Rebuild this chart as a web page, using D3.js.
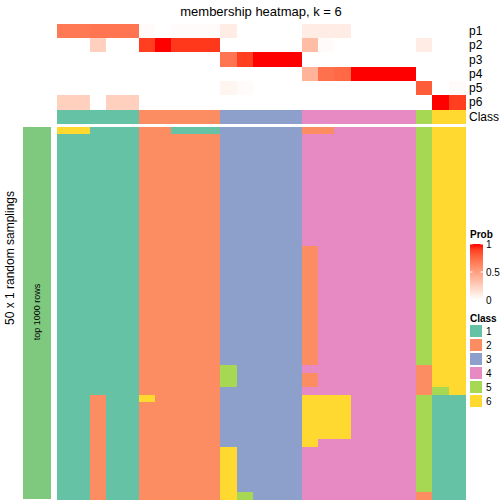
<!DOCTYPE html>
<html><head><meta charset="utf-8">
<script src="https://cdn.jsdelivr.net/npm/d3@7"></script>
<style>html,body{margin:0;padding:0;background:#fff;}svg{display:block;font-family:"Liberation Sans",Arial,Helvetica,sans-serif;}</style>
</head><body>
<script>
// ---- data ----
const columns = d3.range(25);
const probRows = ["p1","p2","p3","p4","p5","p6"];
const p1 = [0.68,0.68,0.7,0.7,0.7,0.02,0,0.02,0.02,0.02,0.1,0,0,0,0,0.1,0.1,0.1,0,0,0,0,0,0,0];
const p2 = [0,0,0.25,0,0,0.9,1,0.92,0.92,0.92,0,0,0,0,0,0.35,0.02,0,0,0,0,0,0.1,0,0];
const p3 = [0,0,0,0,0,0,0,0,0,0,0.7,0.9,1,1,1,0,0,0,0,0,0,0,0,0,0];
const p4 = [0,0,0,0,0,0,0,0,0,0,0,0,0,0,0,0.4,0.72,0.75,1,1,1,1,0,0,0];
const p5 = [0,0,0,0,0,0,0,0,0,0,0.05,0.02,0,0,0,0,0,0,0,0,0,0,0.8,0,0.02];
const p6 = [0.25,0.25,0,0.25,0.25,0,0,0,0,0,0,0,0,0,0,0,0,0,0,0,0,0,0,1,0.9];
const classRow = [1,1,1,1,1,2,2,2,2,2,3,3,3,3,3,4,4,4,4,4,4,4,5,6,6];
const samplingRows = [
"6611122111333332244444566",
"1111122222333334444444566","1111122222333334444444566","1111122222333334444444566",
"1111122222333334444444566","1111122222333334444444566","1111122222333334444444566",
"1111122222333334444444566","1111122222333334444444566","1111122222333334444444566",
"1111122222333334444444566","1111122222333334444444566","1111122222333334444444566",
"1111122222333334444444566","1111122222333334444444566","1111122222333334444444566",
"1111122222333332444444566","1111122222333332444444566","1111122222333332444444566",
"1111122222333332444444566","1111122222333332444444566","1111122222333332444444566",
"1111122222333332444444566","1111122222333332444444566","1111122222333332444444566",
"1111122222333332444444566","1111122222333332444444566","1111122222333332444444566",
"1111122222333332444444566","1111122222333332444444566","1111122222333332444444566",
"1111122222333332444444566",
"1111122222533334444444266",
"1111122222533332444444266",
"1111122222533332444444266",
"1111122222333334444444256",
"1121162222333336664444511",
"1121122222333336664444511","1121122222333336664444511","1121122222333336664444511",
"1121122222333336664444511","1121122222333336664444511",
"1121122222333336444444511",
"1121122222633334444444511","1121122222633334444444511","1121122222633334444444511",
"1121122222633334444444511","1121122222633334444444511","1121122222633334444444511",
"1121122222653334444444211"
];
const classLabels = ["1","2","3","4","5","6"];
const classColors = ["#66C2A5","#FC8D62","#8DA0CB","#E78AC3","#A6D854","#FFD92F"];
const probTicks = [0,0.5,1];

// ---- chart ----
const W=504,H=504;
const svg=d3.select("body").append("svg").attr("width",W).attr("height",H);
const x=d3.scaleBand().domain(columns).range([57,465]);
const ya=d3.scaleBand().domain(probRows).range([24,109]);
const ym=d3.scaleBand().domain(d3.range(samplingRows.length)).range([127,499]);
const probColor=d3.scaleLinear().domain([0,1]).range(["#ffffff","#ff0000"]).interpolate(d3.interpolateLab);
const classColor=d3.scaleOrdinal().domain(classLabels).range(classColors);
const probData=[p1,p2,p3,p4,p5,p6];

svg.append("text").attr("x",261).attr("y",16).attr("text-anchor","middle")
  .attr("font-size",13).text("membership heatmap, k = 6");

const g=svg.append("g").attr("shape-rendering","crispEdges");
probData.forEach((arr,ri)=>{
  g.selectAll(null).data(arr).enter().append("rect")
    .attr("x",(d,i)=>x(i)).attr("width",x.bandwidth()+0.5)
    .attr("y",ya(probRows[ri])).attr("height",ya.bandwidth()+0.5)
    .attr("fill",d=>probColor(d));
});
g.selectAll(null).data(classRow).enter().append("rect")
  .attr("x",(d,i)=>x(i)).attr("width",x.bandwidth()+0.5)
  .attr("y",110).attr("height",14).attr("fill",d=>classColor(String(d)));

samplingRows.forEach((row,ri)=>{
  g.selectAll(null).data(row.split("")).enter().append("rect")
    .attr("x",(d,i)=>x(i)).attr("width",x.bandwidth()+0.5)
    .attr("y",ym(ri)).attr("height",ym.bandwidth()+0.5)
    .attr("fill",d=>classColor(d));
});

// row labels
probRows.concat(["Class"]).forEach((lab,i)=>{
  const cy = i<6 ? ya(lab)+ya.bandwidth()/2 : 117;
  svg.append("text").attr("x",469).attr("y",cy).attr("dy","0.35em")
    .attr("font-size",12).text(lab);
});

// left bar
svg.append("rect").attr("x",23).attr("y",127).attr("width",28).attr("height",372).attr("fill","#7FC97F");
svg.append("text").attr("transform","translate(37,312) rotate(-90)").attr("text-anchor","middle")
  .attr("dy","0.35em").attr("font-size",9).text("top 1000 rows");
svg.append("text").attr("transform","translate(10,258) rotate(-90)").attr("text-anchor","middle")
  .attr("dy","0.35em").attr("font-size",12).text("50 x 1 random samplings");

// prob legend
svg.append("text").attr("x",470).attr("y",238).attr("font-size",10).attr("font-weight","bold").text("Prob");
const defs=svg.append("defs");
const lg=defs.append("linearGradient").attr("id","pg").attr("x1",0).attr("x2",0).attr("y1",1).attr("y2",0);
d3.range(0,1.01,0.1).forEach(t=>lg.append("stop").attr("offset",t).attr("stop-color",probColor(t)));
const ly=d3.scaleLinear().domain([0,1]).range([300,244]);
svg.append("rect").attr("x",470).attr("y",244).attr("width",13).attr("height",56).attr("fill","url(#pg)");
probTicks.forEach(t=>{
  svg.append("text").attr("x",486).attr("y",ly(t)).attr("dy","0.35em").attr("font-size",10).text(t);
  if(t>0){
    svg.append("line").attr("x1",470).attr("x2",472.5).attr("y1",ly(t)).attr("y2",ly(t)).attr("stroke","#fff");
    svg.append("line").attr("x1",480.5).attr("x2",483).attr("y1",ly(t)).attr("y2",ly(t)).attr("stroke","#fff");
  }
});

// class legend
svg.append("text").attr("x",470).attr("y",322).attr("font-size",10).attr("font-weight","bold").text("Class");
classLabels.forEach((c,i)=>{
  const yy=325+i*14;
  svg.append("rect").attr("x",470).attr("y",yy).attr("width",12).attr("height",12).attr("fill",classColor(c));
  svg.append("text").attr("x",486).attr("y",yy+6).attr("dy","0.35em").attr("font-size",10).text(c);
});
</script>
</body></html>
